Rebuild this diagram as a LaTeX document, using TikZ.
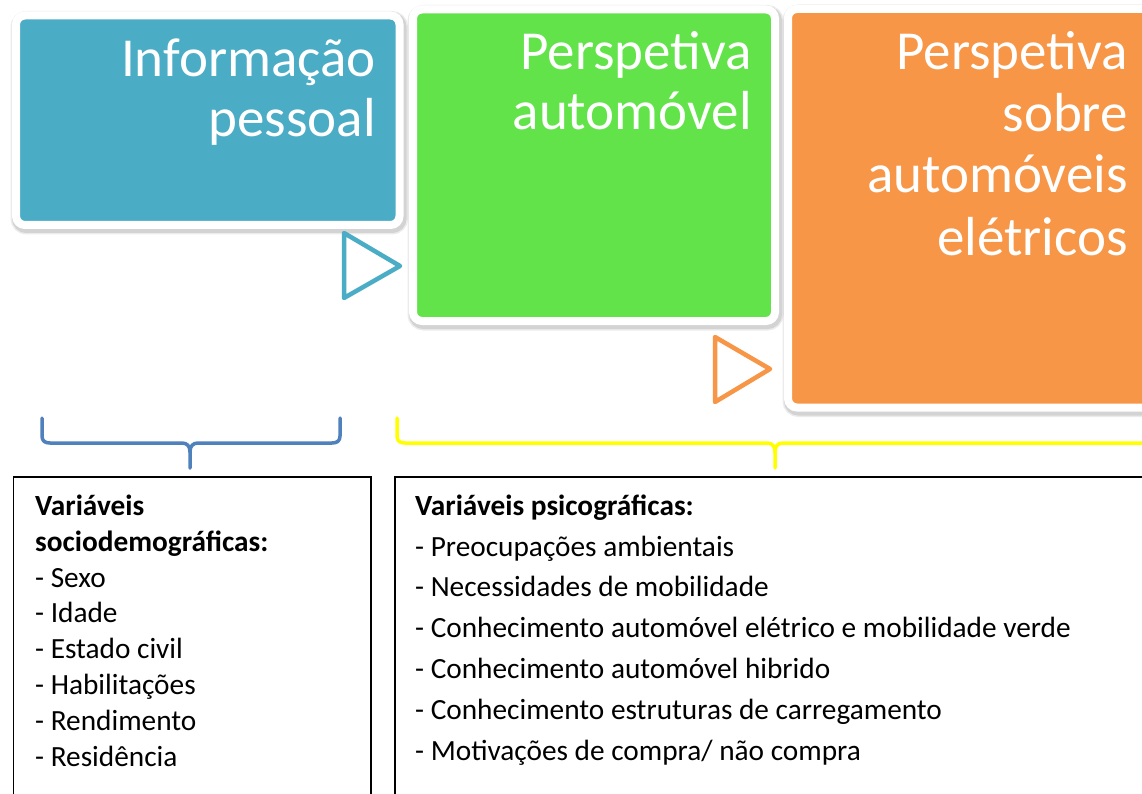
\documentclass[tikz,border=0pt]{standalone}
\usepackage{fontspec}
\setmainfont{Carlito}
\definecolor{cblue}{RGB}{75,172,198}
\definecolor{cgreen}{RGB}{98,227,74}
\definecolor{corange}{RGB}{247,150,70}
\definecolor{bracebl}{RGB}{79,129,189}
\definecolor{braceyl}{RGB}{255,255,0}
\begin{document}
\begin{tikzpicture}[x=1pt,y=-1pt,
  panel/.style={draw=white, line width=8pt, rounded corners=9pt, anchor=north west, inner sep=0pt, outer sep=0pt,
    preaction={draw=black, draw opacity=0.10, line width=11pt, transform canvas={shift={(1.5pt,-2.5pt)}}},
    preaction={draw=black, draw opacity=0.08, line width=14pt, transform canvas={shift={(1.5pt,-2.5pt)}}}},
  title/.style={anchor=base east, inner sep=0pt, text=white, font=\fontsize{55}{60}\selectfont},
  tri/.style={line width=4.5pt, line join=round},
  brace/.style={line width=3.5pt, line cap=round, line join=round},
  frame/.style={draw=black, line width=1.5pt},
  body/.style={anchor=north west, inner sep=0pt, align=left}]
\useasboundingbox[fill=white] (0,0) rectangle (1142,794);

% panels
\node[panel, fill=cblue, minimum width=383.5pt, minimum height=209.5pt] (p1) at (16,15.5) {};
\node[panel, fill=cgreen, minimum width=362pt, minimum height=311.5pt] (p2) at (413,9.5) {};
\node[panel, fill=corange, minimum width=364pt, minimum height=398.5pt] (p3) at (788,9) {};

% titles
\node[title] (t1a) at (376,77) {Informação};
\node[title] (t1b) at (376,137) {pessoal};
\node[title] (t2a) at (752,70) {Perspetiva};
\node[title] (t2b) at (752,130) {automóvel};
\node[title] (t3a) at (1128,70) {Perspetiva};
\node[title] (t3b) at (1128,132) {sobre};
\node[title] (t3c) at (1128,193) {automóveis};
\node[title] (t3d) at (1128,255) {elétricos};

% triangles
\draw[tri, cblue] (344,233) -- (344,298) -- (400,266) -- cycle;
\draw[tri, corange] (715,337) -- (715,402) -- (770,369) -- cycle;

% braces
\draw[brace, bracebl] (42,418) -- (42,436) .. controls (42,441) and (45,443) .. (50,443)
  -- (182,443) .. controls (187,443) and (190,446) .. (190,452) -- (190,468);
\draw[brace, bracebl] (340,418) -- (340,436) .. controls (340,441) and (337,443) .. (332,443)
  -- (198,443) .. controls (193,443) and (190,446) .. (190,452);
\draw[brace, braceyl] (397,418) -- (397,436) .. controls (397,441) and (400,443) .. (405,443)
  -- (767,443) .. controls (772,443) and (775,446) .. (775,452) -- (775,468);
\draw[brace, braceyl] (1170,443) -- (783,443) .. controls (778,443) and (775,446) .. (775,452);

% text boxes
\draw[frame] (13.5,477) rectangle (371,820);
\draw[frame] (395,477) rectangle (1170,820);

\node[body, font=\fontsize{29.3}{35.9}\selectfont] (b1) at (35,490)
  {\rule{0pt}{25pt}\textbf{Variáveis}\\\textbf{sociodemográficas:}\\- Sexo\\- Idade\\- Estado civil\\- Habilitações\\- Rendimento\\- Residência};
\node[body, font=\fontsize{29.3}{40.8}\selectfont] (b2) at (415,490)
  {\rule{0pt}{25pt}\textbf{Variáveis psicográficas:}\\- Preocupações ambientais\\- Necessidades de mobilidade\\- Conhecimento automóvel elétrico e mobilidade verde\\- Conhecimento automóvel hibrido\\- Conhecimento estruturas de carregamento\\- Motivações de compra/ não compra};
\end{tikzpicture}
\end{document}
